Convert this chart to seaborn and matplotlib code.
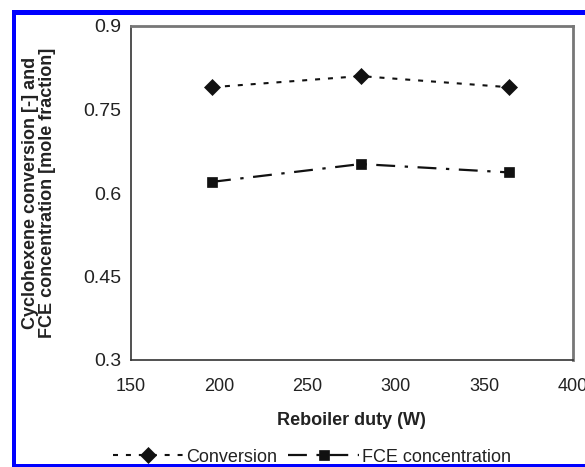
import matplotlib
matplotlib.use("Agg")
import matplotlib.pyplot as plt
import seaborn as sns
from matplotlib.patches import Rectangle

# ---- data ----
reboiler_duty = [196, 280, 364]
conversion = [0.79, 0.81, 0.79]
fce_concentration = [0.62, 0.652, 0.637]
x_ticks = [150, 200, 250, 300, 350, 400]
x_tick_labels = ["150", "200", "250", "300", "350", "400"]
y_ticks = [0.3, 0.45, 0.6, 0.75, 0.9]
y_tick_labels = ["0.3", "0.45", "0.6", "0.75", "0.9"]
series_names = ["Conversion", "FCE concentration"]

sns.set_style("white")
plt.rcParams["font.family"] = ["Liberation Sans", "DejaVu Sans"]

W, H = 585, 467
fig = plt.figure(figsize=(W / 100, H / 100), dpi=100)
ax = fig.add_axes([130.7 / W, (H - 360) / H, 442 / W, 334 / H])

sns.lineplot(x=reboiler_duty, y=conversion, ax=ax, color="#111111",
             marker="D", markersize=8.5, markeredgecolor="#111111", markeredgewidth=0.5,
             linestyle=(0, (2.4, 3.8)), linewidth=1.5, label=series_names[0])
sns.lineplot(x=reboiler_duty, y=fce_concentration, ax=ax, color="#111111",
             marker="s", markersize=7.5, markeredgecolor="#111111", markeredgewidth=0.5,
             linestyle=(0, (8.5, 4.3, 1.5, 4.3)), linewidth=1.6, label=series_names[1])

ax.set_xlim(150, 400)
ax.set_ylim(0.3, 0.9)
ax.set_xticks(x_ticks)
ax.set_xticklabels(x_tick_labels)
ax.set_yticks(y_ticks)
ax.set_yticklabels(y_tick_labels)
ax.tick_params(axis="both", direction="out", length=5, width=1, colors="#333333",
               labelsize=13, labelcolor="#222222")
ax.tick_params(axis="x", pad=8)
ax.tick_params(axis="y", pad=2, labelsize=14)

for s in ["left", "bottom"]:
    ax.spines[s].set_color("#333333")
    ax.spines[s].set_linewidth(1.2)
for s in ["top", "right"]:
    ax.spines[s].set_color("#777777")
    ax.spines[s].set_linewidth(2)

ax.set_xlabel("Reboiler duty (W)", fontsize=13, fontweight="bold", color="#222222")
ax.set_ylabel("Cyclohexene conversion [-] and\nFCE concentration [mole fraction]",
              fontsize=13, fontweight="bold", color="#222222", linespacing=1.0)
ax.xaxis.set_label_coords(0.5, -0.156)
ax.yaxis.set_label_coords(-0.168, 0.5)

handles, labels = ax.get_legend_handles_labels()
ax.legend().remove()
fig.legend(handles, labels, loc="center", bbox_to_anchor=(312 / W, 1 - 457 / H),
           ncol=2, frameon=False, fontsize=13, handlelength=3.9, handletextpad=0.2,
           columnspacing=0.6, numpoints=1, borderpad=0, labelcolor="#222222")

# blue frame around the figure
blue = "#0000ff"
fig.add_artist(Rectangle((12 / W, 0), 4 / W, (H - 10) / H, transform=fig.transFigure,
                         facecolor=blue, edgecolor="none", zorder=10))
fig.add_artist(Rectangle((12 / W, (H - 15) / H), (W - 12) / W, 5 / H, transform=fig.transFigure,
                         facecolor=blue, edgecolor="none", zorder=10))
fig.add_artist(Rectangle((12 / W, 0), (W - 12) / W, 3 / H, transform=fig.transFigure,
                         facecolor=blue, edgecolor="none", zorder=10))

fig.savefig("out.png", dpi=100)
